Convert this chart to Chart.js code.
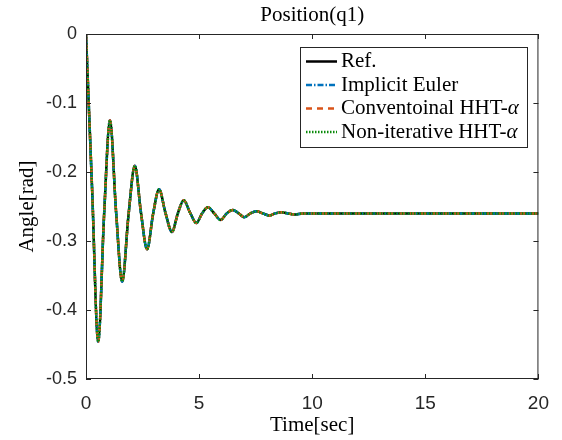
<!DOCTYPE html>
<html>
<head>
<meta charset="utf-8">
<script src="https://cdn.jsdelivr.net/npm/chart.js@4/dist/chart.umd.min.js"></script>
<style>
  html, body { margin: 0; padding: 0; background: #ffffff; }
  #posChart { display: block; }
</style>
</head>
<body>
<canvas id="posChart" width="562" height="440"></canvas>
<script>
// values (extrema + crossings of the damped swing)
const timeSec = [0, 0.27, 0.54, 0.80, 1.06, 1.33, 1.60, 1.88, 2.16, 2.43, 2.70, 2.97, 3.23, 3.51,
    3.80, 4.06, 4.32, 4.60, 4.88, 5.13, 5.39, 5.67, 5.95, 6.22, 6.49, 6.75, 7.00, 7.27, 7.55,
    7.82, 8.10, 8.37, 8.65, 8.92, 9.20, 9.60, 12, 16, 20];
const refAngle = [0, -0.225, -0.446, -0.262, -0.125, -0.258, -0.359, -0.262, -0.191, -0.259, -0.312,
    -0.260, -0.225, -0.259, -0.287, -0.260, -0.241, -0.259, -0.274, -0.260, -0.251, -0.260,
    -0.2695, -0.260, -0.255, -0.260, -0.2655, -0.260, -0.257, -0.260, -0.263, -0.260, -0.2585,
    -0.260, -0.2615, -0.260, -0.260, -0.260, -0.260];
// the three schemes lie on top of the reference in the picture
const eulerAngle = refAngle.slice();
const hhtAngle = refAngle.slice();
const nonIterAngle = refAngle.slice();

const seriesNames = ['Ref.', 'Implicit Euler', 'Conventoinal HHT-α', 'Non-iterative HHT-α'];
const xTickLabels = ['0', '5', '10', '15', '20'];
const yTickLabels = ['-0.5', '-0.4', '-0.3', '-0.2', '-0.1', '0'];

const axisColor = '#262626';
const serif = '"Liberation Serif", "DejaVu Serif", serif';
const sans = '"Liberation Sans", Arial, sans-serif';

function toPoints(ys) {
    return timeSec.map((t, i) => ({ x: t, y: ys[i] }));
}

function lineSet(label, ys, color, dash, order) {
    return {
        label: label,
        data: toPoints(ys),
        borderColor: color,
        backgroundColor: color,
        borderWidth: 2.5,
        borderDash: dash,
        pointRadius: 0,
        fill: false,
        cubicInterpolationMode: 'monotone',
        order: order
    };
}

// box, inward ticks, title, axis labels and legend like the matlab figure
const matlabFrame = {
    id: 'matlabFrame',
    afterDraw(chart) {
        const ctx = chart.ctx;
        const area = chart.chartArea;
        const xs = chart.scales.x;
        const ys = chart.scales.y;
        ctx.save();

        ctx.strokeStyle = axisColor;
        ctx.lineWidth = 1;
        ctx.setLineDash([]);
        ctx.strokeRect(area.left + 0.5, area.top + 0.5, area.right - area.left - 1, area.bottom - area.top - 1);

        const tl = 5;
        ctx.beginPath();
        xs.ticks.forEach(t => {
            const px = Math.round(xs.getPixelForValue(t.value)) + 0.5;
            ctx.moveTo(px, area.bottom);
            ctx.lineTo(px, area.bottom - tl);
            ctx.moveTo(px, area.top);
            ctx.lineTo(px, area.top + tl);
        });
        ys.ticks.forEach(t => {
            const py = Math.round(ys.getPixelForValue(t.value)) + 0.5;
            ctx.moveTo(area.left, py);
            ctx.lineTo(area.left + tl, py);
            ctx.moveTo(area.right, py);
            ctx.lineTo(area.right - tl, py);
        });
        ctx.stroke();

        const midX = (area.left + area.right) / 2;
        ctx.fillStyle = '#000000';
        ctx.textAlign = 'center';
        ctx.textBaseline = 'middle';
        ctx.font = '21px ' + serif;
        ctx.fillText('Position(q1)', midX, 15);
        ctx.fillText('Time[sec]', midX, 425);
        ctx.save();
        ctx.translate(27, (area.top + area.bottom) / 2);
        ctx.rotate(-Math.PI / 2);
        ctx.fillText('Angle[rad]', 0, 0);
        ctx.restore();

        // legend
        const box = { left: 300, top: 47, right: 527, bottom: 147 };
        ctx.fillStyle = '#ffffff';
        ctx.fillRect(box.left, box.top, box.right - box.left, box.bottom - box.top);
        ctx.strokeStyle = '#262626';
        ctx.lineWidth = 1;
        ctx.strokeRect(box.left + 0.5, box.top + 0.5, box.right - box.left, box.bottom - box.top);
        const rowY = [61.5, 85, 108.5, 132];
        chart.data.datasets.forEach((ds, i) => {
            const y = rowY[i];
            ctx.strokeStyle = ds.borderColor;
            ctx.lineWidth = 2.5;
            ctx.setLineDash(ds.borderDash || []);
            ctx.beginPath();
            ctx.moveTo(306, y);
            ctx.lineTo(337, y);
            ctx.stroke();
            ctx.setLineDash([]);
            ctx.fillStyle = '#000000';
            ctx.textAlign = 'left';
            ctx.textBaseline = 'middle';
            const label = ds.label;
            ctx.font = '21px ' + serif;
            if (label.endsWith('α')) {
                const head = label.slice(0, -1);
                ctx.fillText(head, 341, y);
                const w = ctx.measureText(head).width;
                ctx.font = 'italic 21px ' + serif;
                ctx.fillText('α', 341 + w, y);
            } else {
                ctx.fillText(label, 341, y);
            }
        });
        ctx.restore();
    }
};

const ctx = document.getElementById('posChart').getContext('2d');
const posChart = new Chart(ctx, {
    type: 'line',
    data: {
        datasets: [
            lineSet(seriesNames[0], refAngle, '#000000', [], 4),
            lineSet(seriesNames[1], eulerAngle, '#0072BD', [6, 2, 1.5, 2], 3),
            lineSet(seriesNames[2], hhtAngle, '#D95319', [6, 5], 2),
            lineSet(seriesNames[3], nonIterAngle, '#0a8a0a', [1.5, 1.5], 1)
        ]
    },
    options: {
        responsive: false,
        animation: false,
        layout: { padding: { top: 34, right: 22, left: 0, bottom: 0 } },
        plugins: {
            legend: { display: false },
            title: { display: false },
            tooltip: { enabled: false }
        },
        scales: {
            x: {
                type: 'linear',
                min: 0,
                max: 20,
                grid: { display: false, drawTicks: false },
                border: { display: false },
                ticks: {
                    stepSize: 5,
                    maxRotation: 0,
                    padding: 13,
                    color: axisColor,
                    font: { family: sans, size: 19 },
                    callback: function(value) {
                        return xTickLabels[Math.round(value / 5)];
                    }
                },
                afterFit: function(scale) { scale.height = 61; }
            },
            y: {
                min: -0.5,
                max: 0,
                grid: { display: false, drawTicks: false },
                border: { display: false },
                ticks: {
                    stepSize: 0.1,
                    padding: 9,
                    color: axisColor,
                    font: { family: sans, size: 18 },
                    callback: function(value) {
                        return yTickLabels[Math.round((value + 0.5) * 10)];
                    }
                },
                afterFit: function(scale) { scale.width = 86; }
            }
        }
    },
    plugins: [matlabFrame]
});
</script>
</body>
</html>
